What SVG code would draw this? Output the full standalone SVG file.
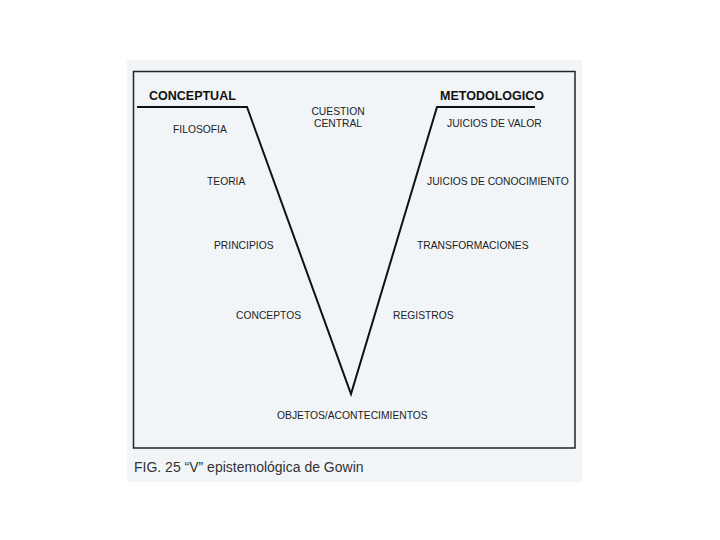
<svg xmlns="http://www.w3.org/2000/svg" width="720" height="540" viewBox="0 0 720 540">
<style>
text{font-family:"Liberation Sans",Arial,sans-serif;fill:#222}
.lbl{font-size:10.3px}
.hd{font-size:12.5px;font-weight:bold;fill:#111}
.cap{font-size:14px;fill:#333}
.v{fill:none;stroke:#111;stroke-width:2;stroke-linejoin:miter}
</style>
<rect x="0" y="0" width="720" height="540" fill="#ffffff"/>
<rect x="127" y="60" width="455" height="422" fill="#f2f5f8"/>
<rect x="133.5" y="71.5" width="441.5" height="376.5" fill="none" stroke="#222" stroke-width="1.5"/>
<g id="connectors">
<polyline class="v" points="137,107 247,107 351,394 437,107 535,107"/>
</g>
<g id="conceptual"><text class="hd" x="149" y="100">CONCEPTUAL</text></g>
<g id="metodologico"><text class="hd" x="440" y="100">METODOLOGICO</text></g>
<g id="cuestion"><text class="lbl" x="338" y="115" text-anchor="middle">CUESTION</text><text class="lbl" x="338" y="127" text-anchor="middle">CENTRAL</text></g>
<g id="filosofia"><text class="lbl" x="173" y="133">FILOSOFIA</text></g>
<g id="teoria"><text class="lbl" x="207" y="185">TEORIA</text></g>
<g id="principios"><text class="lbl" x="214" y="249">PRINCIPIOS</text></g>
<g id="conceptos"><text class="lbl" x="236" y="319">CONCEPTOS</text></g>
<g id="juicios-valor"><text class="lbl" x="447" y="127">JUICIOS DE VALOR</text></g>
<g id="juicios-conocimiento"><text class="lbl" x="427" y="185">JUICIOS DE CONOCIMIENTO</text></g>
<g id="transformaciones"><text class="lbl" x="417" y="249">TRANSFORMACIONES</text></g>
<g id="registros"><text class="lbl" x="393" y="319">REGISTROS</text></g>
<g id="objetos"><text class="lbl" x="277" y="419">OBJETOS/ACONTECIMIENTOS</text></g>
<g id="caption"><text class="cap" x="134" y="472">FIG. 25 “V” epistemológica de Gowin</text></g>
</svg>
